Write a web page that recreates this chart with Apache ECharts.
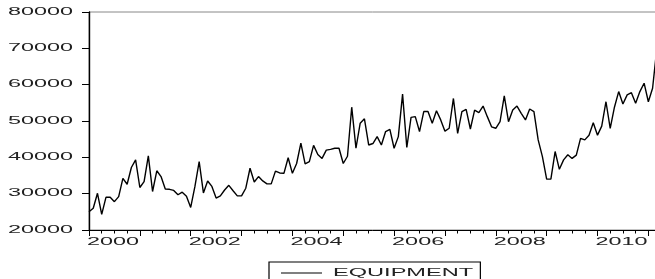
<!DOCTYPE html>
<html>
<head>
<meta charset="utf-8">
<script src="https://cdn.jsdelivr.net/npm/echarts@6/dist/echarts.min.js"></script>
<style>html,body{margin:0;padding:0;background:#fff}#c{width:655px;height:279px}</style>
</head>
<body>
<div id="c"></div>
<script>
// Monthly observations starting 2000M01
const startYear = 2000;
const seriesName = 'EQUIPMENT';
const equipment = [
25000,26000,30100,24300,29000,29000,27800,29200,34200,32600,37200,39300,
31700,33300,40400,30600,36300,34700,31300,31200,30900,29700,30400,29300,
26200,32000,38800,30200,33500,32000,28800,29400,31000,32300,30800,29400,
29400,31500,37000,33200,34700,33500,32700,32700,36200,35700,35600,39900,
35600,38300,43900,38200,38800,43300,40800,39700,42000,42200,42500,42500,
38300,40300,53800,42500,49400,50600,43400,43800,45700,43400,47100,47700,
42500,45700,57400,42700,51000,51200,47100,52600,52600,49400,52800,50300,
47200,48000,56200,46600,52600,53200,47800,53000,52300,54100,51200,48400,
48000,49800,56900,49800,53000,54100,52100,50300,53300,52600,44800,40200,
34000,34000,41600,36700,39300,40700,39700,40600,45200,44800,46100,49500,
46100,48600,55300,48000,53800,58100,54700,57200,57800,54900,58100,60400,
55300,59000,70000
];
const yTicks = [20000, 30000, 40000, 50000, 60000, 70000, 80000];
const xLabelYears = [2000, 2002, 2004, 2006, 2008, 2010];

const data = equipment.map((v, i) => [i, v]);
const font = "'Liberation Sans', Arial, sans-serif";

const chart = echarts.init(document.getElementById('c'), null, {renderer: 'canvas'});
chart.setOption({
  animation: false,
  backgroundColor: '#fff',
  grid: {left: 89, top: 12, width: 571, height: 218, containLabel: false, outerBoundsMode: 'none',
    show: true, borderColor: '#888', borderWidth: 1},
  xAxis: {
    type: 'value', min: 0, max: 134.75, interval: 12,
    axisLine: {show: true, onZero: false, lineStyle: {color: '#000', width: 1}},
    axisTick: {show: true, inside: false, length: 6, lineStyle: {color: '#000', width: 1}},
    minorTick: {show: true, splitNumber: 4, length: 3.5, lineStyle: {color: '#000', width: 1}},
    splitLine: {show: false},
    axisLabel: {
      show: true, margin: 7, color: '#222', fontFamily: font, fontSize: 10, align: 'left',
      formatter: function (v) {
        const y = startYear + v / 12;
        return xLabelYears.indexOf(y) >= 0 ? String(y) : '';
      }
    }
  },
  yAxis: {
    type: 'value', min: yTicks[0], max: yTicks[yTicks.length - 1], interval: 10000,
    axisLine: {show: true, lineStyle: {color: '#000', width: 1.4}},
    axisTick: {show: true, inside: false, length: 7, lineStyle: {color: '#000', width: 1}},
    splitLine: {show: false},
    axisLabel: {show: true, margin: 16, color: '#222', fontFamily: font, fontSize: 10,
      formatter: function (v) { return yTicks.indexOf(v) >= 0 ? String(v) : ''; }}
  },
  legend: {
    show: true, left: 269, top: 262, orient: 'horizontal',
    padding: [5, 85, 5, 12], itemWidth: 41, itemHeight: 12,
    borderColor: '#000', borderWidth: 1.2, backgroundColor: '#fff',
    icon: 'path://M0,5 L41,5 L41,6 L0,6 Z',
    itemStyle: {color: '#000'},
    textStyle: {color: '#222', fontFamily: font, fontSize: 11.5},
    data: [seriesName]
  },
  series: [{
    name: seriesName, type: 'line', data: data, showSymbol: false, symbol: 'none',
    lineStyle: {color: '#000', width: 1.4}, itemStyle: {color: '#000'}, clip: true
  }]
});

// Stretch the text horizontally (the reference uses very wide lettering)
function stretchText() {
  const zr = chart.getZr();
  const list = zr.storage.getDisplayList(true);
  const seen = new Set();
  list.forEach(function (el) {
    const t = el.parent;
    if (!t || t.type !== 'text' || seen.has(t)) return;
    seen.add(t);
    const txt = t.style && t.style.text;
    if (!txt) return;
    t.originX = t.style.x || 0; t.originY = t.style.y || 0;
    if (txt === seriesName) {
      t.scaleX = 2.05; t.x = (t.x || 0) + 6;
    } else {
      t.scaleX = 2.34;
      if (/^20\d\d$/.test(txt)) t.x = t.x - 2;
    }
    t.markRedraw();
  });
  zr.refreshImmediately();
}
stretchText();
</script>
</body>
</html>
